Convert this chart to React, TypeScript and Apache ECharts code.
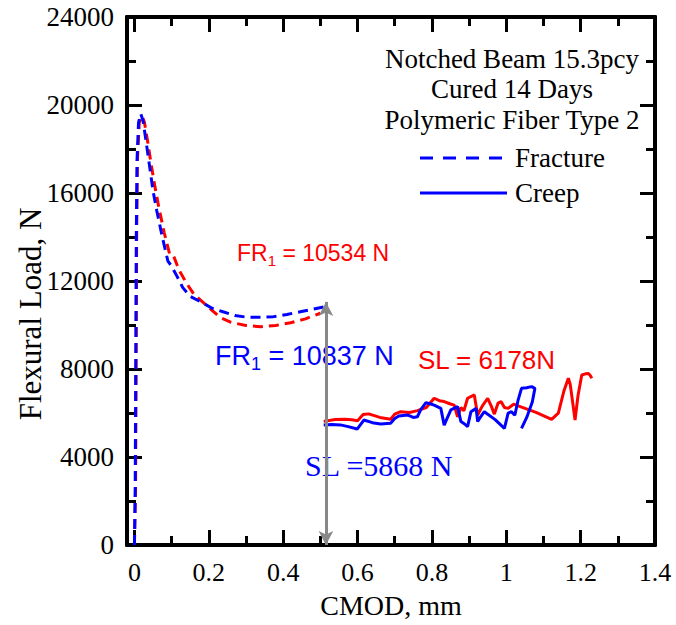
import React, { useEffect, useRef } from "react";
import * as echarts from "echarts";

const xMajor = [0, 0.2, 0.4, 0.6, 0.8, 1, 1.2, 1.4];
const xMinor = [0.1, 0.3, 0.5, 0.7, 0.9, 1.1, 1.3];

const fractureBlue: [number, number][] = [
  [0, 0], [0.002, 2500], [0.003, 6000], [0.004, 10000], [0.005, 14000], [0.007, 17500],
  [0.011, 19200], [0.017, 19600], [0.023, 19300], [0.03, 18500], [0.04, 17300], [0.05, 16100],
  [0.06, 15200], [0.075, 14000], [0.09, 12900], [0.099, 12700], [0.115, 12200], [0.13, 11700],
  [0.15, 11300], [0.184, 11000], [0.21, 10750], [0.238, 10600], [0.27, 10430], [0.3, 10360],
  [0.34, 10350], [0.374, 10380], [0.41, 10480], [0.446, 10600], [0.48, 10720], [0.515, 10837],
];

const fractureRed: [number, number][] = [
  [0, 0], [0.003, 2500], [0.004, 6000], [0.005, 10000], [0.006, 14000], [0.008, 17500],
  [0.013, 19200], [0.021, 19500], [0.027, 19200], [0.035, 18400], [0.045, 17300], [0.055, 16300],
  [0.065, 15400], [0.08, 14200], [0.095, 13200], [0.105, 13150], [0.12, 12500], [0.14, 11900],
  [0.16, 11400], [0.18, 11100], [0.2, 10800], [0.23, 10350], [0.26, 10120], [0.3, 9980],
  [0.34, 9920], [0.38, 9980], [0.42, 10100], [0.46, 10280], [0.5, 10534],
];

const creepBlue: [number, number][] = [
  [0.509, 5450], [0.53, 5480], [0.554, 5460], [0.575, 5380], [0.599, 5270], [0.617, 5680],
  [0.64, 5560], [0.662, 5500], [0.689, 5530], [0.7, 5750], [0.711, 5860], [0.734, 5910],
  [0.75, 5800], [0.761, 5830], [0.77, 6150], [0.784, 6470], [0.795, 6420], [0.806, 6360],
  [0.824, 6210], [0.833, 5450], [0.842, 5800], [0.851, 6140], [0.869, 6290], [0.878, 5610],
  [0.888, 5500], [0.896, 5380], [0.905, 6060], [0.919, 6210], [0.923, 5610], [0.93, 5800],
  [0.941, 6060], [0.97, 5700], [0.995, 5300], [1.005, 5990], [1.014, 6060], [1.023, 5900],
  [1.032, 6600], [1.041, 7120], [1.055, 7150], [1.068, 7200], [1.077, 7120], [1.07, 6500],
  [1.055, 5800], [1.041, 5300],
];

const creepRed: [number, number][] = [
  [0.509, 5620], [0.54, 5700], [0.565, 5720], [0.585, 5690], [0.6, 5650], [0.615, 5930],
  [0.63, 5960], [0.66, 5800], [0.689, 5720], [0.7, 5950], [0.716, 6060], [0.74, 6020],
  [0.761, 6110], [0.785, 6250], [0.806, 6670], [0.82, 6560], [0.833, 6520], [0.848, 6420],
  [0.86, 6360], [0.869, 5830], [0.878, 6250], [0.886, 6100], [0.896, 6670], [0.914, 6820],
  [0.923, 5910], [0.935, 6300], [0.95, 6670], [0.96, 6300], [0.968, 5950], [0.978, 6450],
  [0.986, 6520], [0.995, 6250], [1.005, 6210], [1.02, 6400], [1.032, 6320], [1.08, 6030],
  [1.122, 5710], [1.14, 5990], [1.155, 7000], [1.167, 7580], [1.172, 7300], [1.185, 5680],
  [1.193, 6800], [1.203, 7730], [1.213, 7780], [1.221, 7800], [1.226, 7700], [1.23, 7580],
];

const arrowX = 0.515;
const arrowTop = 11050;

const titleLines = ["Notched Beam 15.3pcy", "Cured 14 Days", "Polymeric Fiber Type 2"];
const yTitle = "Flexural Load, N";
const xTitle = "CMOD, mm";

const SERIF = "'Liberation Serif', 'Times New Roman', serif";
const SANS = "'Liberation Sans', Arial, sans-serif";
const RED = "#ff0000";
const BLUE = "#0000ff";

function xAxisDef(position: string, ticks: number[], len: number, showLabel: boolean) {
  return {
    type: "value",
    min: -0.02,
    max: 1.4,
    position,
    axisLine: { show: true, onZero: false, lineStyle: { color: "#000", width: 4 } },
    axisTick: { show: true, inside: true, length: len, customValues: ticks, lineStyle: { color: "#000", width: 3 } },
    axisLabel: {
      show: showLabel,
      customValues: xMajor,
      margin: 14,
      color: "#000",
      fontFamily: SERIF,
      fontSize: 26,
      formatter: (v: number) => String(+v.toFixed(1)),
    },
    splitLine: { show: false },
    name: showLabel ? xTitle : "",
    nameLocation: "middle",
    nameGap: 46,
    nameTextStyle: { color: "#000", fontFamily: SERIF, fontSize: 28 },
  };
}

function yAxisDef(position: string, showLabel: boolean) {
  return {
    type: "value",
    min: 0,
    max: 24000,
    interval: 4000,
    position,
    axisLine: { show: true, onZero: false, lineStyle: { color: "#000", width: 4 } },
    axisTick: { show: true, inside: true, length: 15, lineStyle: { color: "#000", width: 3 } },
    minorTick: { show: true, splitNumber: 2, length: 9, lineStyle: { color: "#000", width: 3 } },
    axisLabel: {
      show: showLabel,
      margin: 13,
      color: "#000",
      fontFamily: SERIF,
      fontSize: 27,
      formatter: (v: number) => String(v),
    },
    splitLine: { show: false },
    minorSplitLine: { show: false },
  };
}

function frRich(color: string, value: string, size: number) {
  return {
    text: `{a|FR}{s|1}{a| = ${value}}`,
    fill: color,
    rich: {
      a: { fontFamily: SANS, fontSize: size, lineHeight: size + 7, fill: color, verticalAlign: "middle" },
      s: { fontFamily: SANS, fontSize: Math.round(size * 0.65), lineHeight: Math.round(size * 0.65), fill: color, verticalAlign: "bottom" },
    },
  };
}

export default function App() {
  const ref = useRef<HTMLDivElement>(null);
  useEffect(() => {
    if (!ref.current) return;
    const chart = echarts.init(ref.current, undefined, { renderer: "svg" });
    const graphics: any[] = [];
    const titleY = [59, 89, 120];
    titleLines.forEach((t, i) => {
      graphics.push({
        type: "text",
        x: 512,
        y: titleY[i],
        style: { text: t, fill: "#000", font: `27px ${SERIF}`, align: "center", verticalAlign: "middle" },
      });
    });
    graphics.push(
      {
        type: "text", x: 30, y: 314, rotation: Math.PI / 2,
        style: { text: yTitle, fill: "#000", font: `31px ${SERIF}`, align: "center", verticalAlign: "middle" },
      },
      { type: "line", shape: { x1: 420, y1: 158, x2: 503, y2: 158 }, style: { stroke: BLUE, lineWidth: 3, lineDash: [13, 10] } },
      { type: "text", x: 515, y: 158, style: { text: "Fracture", fill: "#000", font: `27px ${SERIF}`, align: "left", verticalAlign: "middle" } },
      { type: "line", shape: { x1: 420, y1: 193, x2: 507, y2: 193 }, style: { stroke: BLUE, lineWidth: 3 } },
      { type: "text", x: 515, y: 193, style: { text: "Creep", fill: "#000", font: `27px ${SERIF}`, align: "left", verticalAlign: "middle" } },
      { type: "text", x: 237, y: 238, style: { ...frRich(RED, "10534 N", 23) } },
      { type: "text", x: 215, y: 339, style: { ...frRich(BLUE, "10837 N", 27) } },
      { type: "text", x: 418, y: 360, style: { text: "SL = 6178N", fill: RED, font: `26px ${SANS}`, align: "left", verticalAlign: "middle" } },
      { type: "text", x: 305, y: 465, style: { text: "SL =5868 N", fill: BLUE, font: `30px ${SERIF}`, align: "left", verticalAlign: "middle" } }
    );

    chart.setOption({
      animation: false,
      grid: { left: 127, right: 21, top: 17, bottom: 80, containLabel: false, outerBoundsMode: "none" },
      xAxis: [
        xAxisDef("bottom", xMajor, 15, true),
        xAxisDef("bottom", xMinor, 9, false),
        xAxisDef("top", xMajor, 15, false),
        xAxisDef("top", xMinor, 9, false),
      ],
      yAxis: [yAxisDef("left", true), yAxisDef("right", false)],
      series: [
        {
          type: "line", data: fractureRed, showSymbol: false, symbol: "none",
          lineStyle: { color: RED, width: 3, type: [10, 6] },
        },
        {
          type: "line", data: fractureBlue, showSymbol: false, symbol: "none",
          lineStyle: { color: BLUE, width: 3, type: [10, 6] },
        },
        {
          type: "line", data: creepRed, showSymbol: false, symbol: "none",
          lineStyle: { color: RED, width: 3 },
        },
        {
          type: "line", data: creepBlue, showSymbol: false, symbol: "none",
          lineStyle: { color: BLUE, width: 3 },
        },
        {
          type: "line", data: [], symbol: "none",
          markLine: {
            silent: true,
            symbol: ["arrow", "arrow"],
            symbolSize: [11, 14],
            label: { show: false },
            lineStyle: { color: "#888888", width: 3, type: "solid" },
            data: [[{ coord: [arrowX, 0] }, { coord: [arrowX, arrowTop] }]],
          },
        },
      ],
      graphic: graphics,
    });
    return () => chart.dispose();
  }, []);
  return (
    <div
      ref={ref}
      style={{ position: "fixed", left: 0, top: 0, width: 676, height: 625, background: "#fff" }}
    />
  );
}
